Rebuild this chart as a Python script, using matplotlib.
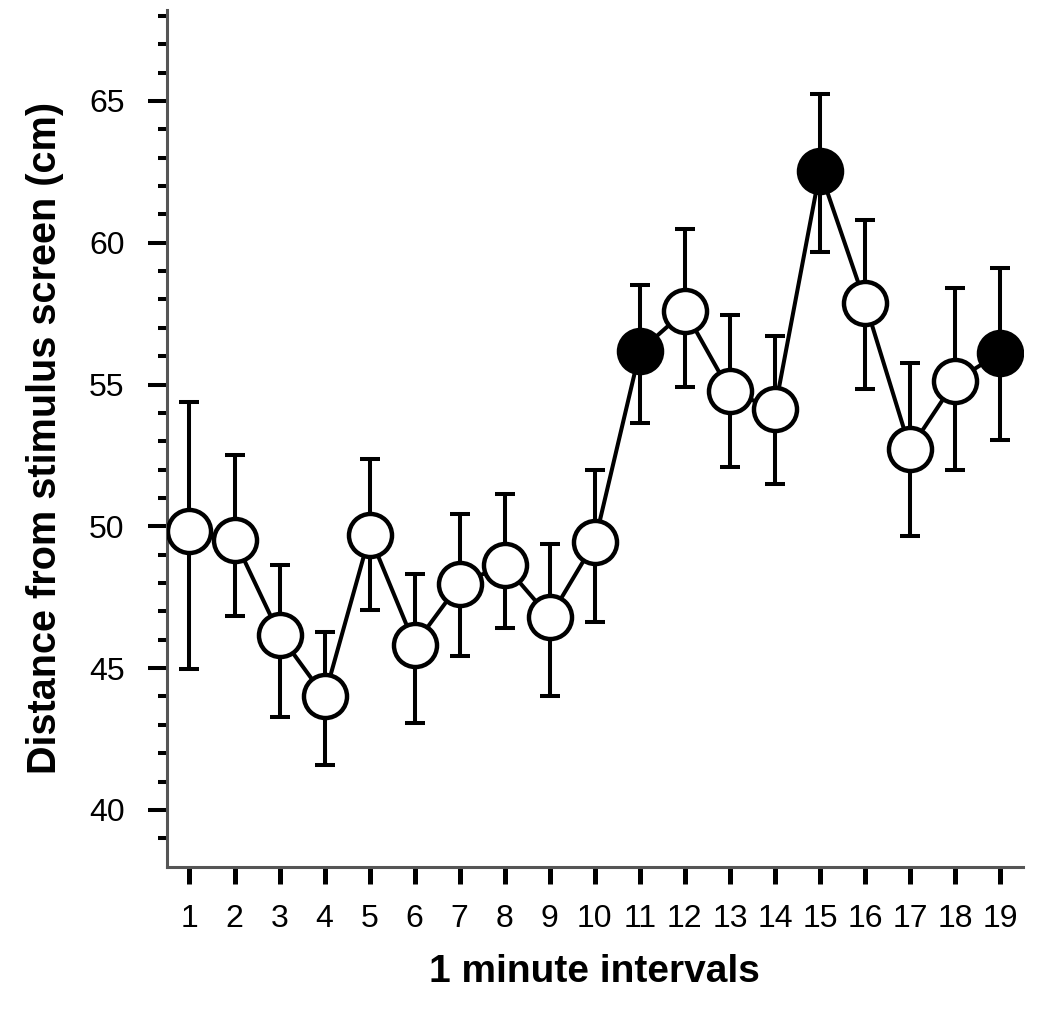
import numpy as np
import matplotlib
matplotlib.use("Agg")
import matplotlib.pyplot as plt
from matplotlib.ticker import FixedLocator

plt.rcParams['font.family'] = ['Liberation Sans', 'DejaVu Sans']

# dane
intervals = list(range(1, 20))
means = [49.83, 49.53, 46.18, 44.00, 49.68, 45.83, 47.98, 48.63, 46.79, 49.45,
         56.18, 57.59, 54.76, 54.14, 62.54, 57.89, 52.73, 55.12, 56.12]
upper = [54.38, 52.51, 48.63, 46.29, 52.39, 48.32, 50.42, 51.15, 49.36, 52.00,
         58.51, 60.50, 57.45, 56.71, 65.25, 60.81, 55.77, 58.40, 59.12]
lower = [44.97, 46.85, 43.27, 41.59, 47.06, 43.08, 45.41, 46.41, 44.03, 46.63,
         53.65, 54.92, 52.09, 51.48, 59.67, 54.83, 49.67, 51.98, 53.04]
filled = [11, 15, 19]  # czarne punkty

x = np.array(intervals)
y = np.array(means)
err = [y - np.array(lower), np.array(upper) - y]
is_filled = np.isin(x, filled)

fig = plt.figure(figsize=(10.5, 10.16), dpi=100)
ax = fig.add_axes([0.159, 0.147, 0.815, 0.843])

# słupki błędów pod punktami
ax.errorbar(x, y, yerr=err, fmt='none', ecolor='black', elinewidth=2.9,
            capsize=7.5, capthick=2.9, zorder=1)
ax.plot(x, y, '-', color='black', lw=2.9, zorder=2)
ax.plot(x[~is_filled], y[~is_filled], 'o', ms=31, mfc='white', mec='black',
        mew=3.2, zorder=3)
ax.plot(x[is_filled], y[is_filled], 'o', ms=31, mfc='black', mec='black',
        mew=3.2, zorder=3)

ax.set_xlim(0.5, 19.5)
ax.set_ylim(38, 68.2)
ax.set_xticks(intervals)
ax.set_yticks([40, 45, 50, 55, 60, 65])
ax.yaxis.set_minor_locator(FixedLocator([v for v in range(39, 69) if v % 5 != 0]))

for side in ['top', 'right']:
    ax.spines[side].set_visible(False)
for side in ['left', 'bottom']:
    ax.spines[side].set_linewidth(2.2)
    ax.spines[side].set_color('#555555')

ax.tick_params(axis='y', which='major', length=13.5, width=2.9, pad=17,
               labelsize=23, color='black')
ax.tick_params(axis='y', which='minor', length=6.5, width=2.9, color='black')
ax.tick_params(axis='x', which='major', length=12, width=3.6, pad=15,
               labelsize=23, color='black')

ax.set_xlabel('1 minute intervals', fontsize=28, fontweight='bold', labelpad=14)
ax.set_ylabel('Distance from stimulus screen (cm)', fontsize=28.5,
              fontweight='bold', labelpad=18)

fig.savefig('out.png', dpi=100)
